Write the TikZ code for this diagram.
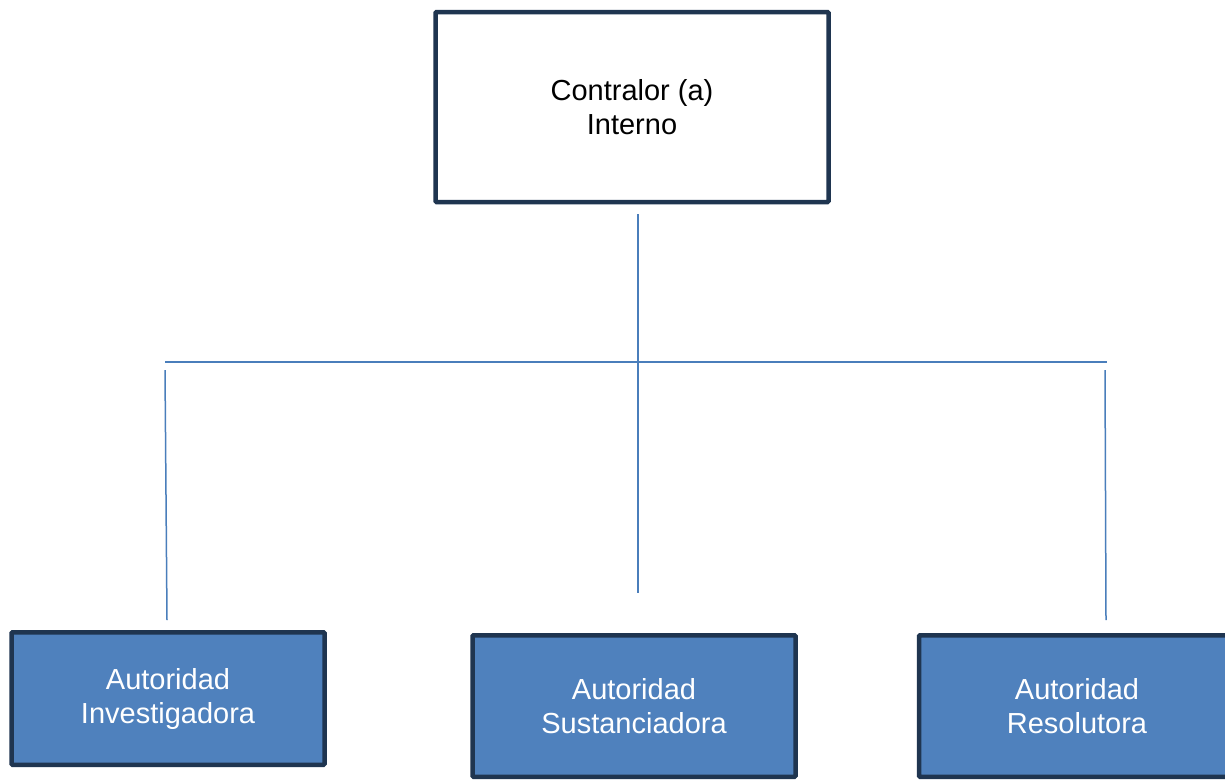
\documentclass[tikz,border=0pt]{standalone}
\usepackage{fontspec}
\setmainfont{Liberation Sans}
\definecolor{marco}{HTML}{1F3550}
\definecolor{relleno}{HTML}{4F81BD}
\definecolor{linea}{HTML}{4A7EBB}
\begin{document}
\begin{tikzpicture}[x=1pt, y=-1pt,
		base/.style={draw=marco, line width=4.5pt, rounded corners=1pt, align=center, inner sep=0pt, font=\fontsize{29}{34}\selectfont},
		jefe/.style={base, fill=white, minimum width=393pt, minimum height=190pt},
		area/.style={base, fill=relleno, text=white},
		link/.style={draw=linea, line width=1.5pt}
	]
	\useasboundingbox[fill=white] (0,0) rectangle (1225,780);

	\node[jefe] at (632,107) (contralor) {Contralor (a)\\Interno};

	\node[area, minimum width=313pt, minimum height=132.5pt] at (168,698.5) (investigadora) {Autoridad\\Investigadora};
	\node[area, minimum width=323pt, minimum height=141.5pt] at (634,706) (sustanciadora) {Autoridad\\Sustanciadora};
	\node[area, minimum width=316pt, minimum height=141.5pt] at (1077,706) (resolutora) {Autoridad\\Resolutora};

	% barra de reparto
	\coordinate (barra-izq) at (165,362);
	\coordinate (barra-der) at (1107,362);
	\coordinate (tallo) at (638,593);

	\draw[link] (tallo |- contralor.south) ++(0,10) -- (tallo);
	\draw[link] (barra-izq) -- (barra-der);
	\draw[link] ([yshift=-8pt]barra-izq) -- ([xshift=-1pt, yshift=10pt]investigadora.north);
	\draw[link] ([xshift=-2pt, yshift=-8pt]barra-der) -- ([xshift=29pt, yshift=13pt]resolutora.north);

\end{tikzpicture}
\end{document}
